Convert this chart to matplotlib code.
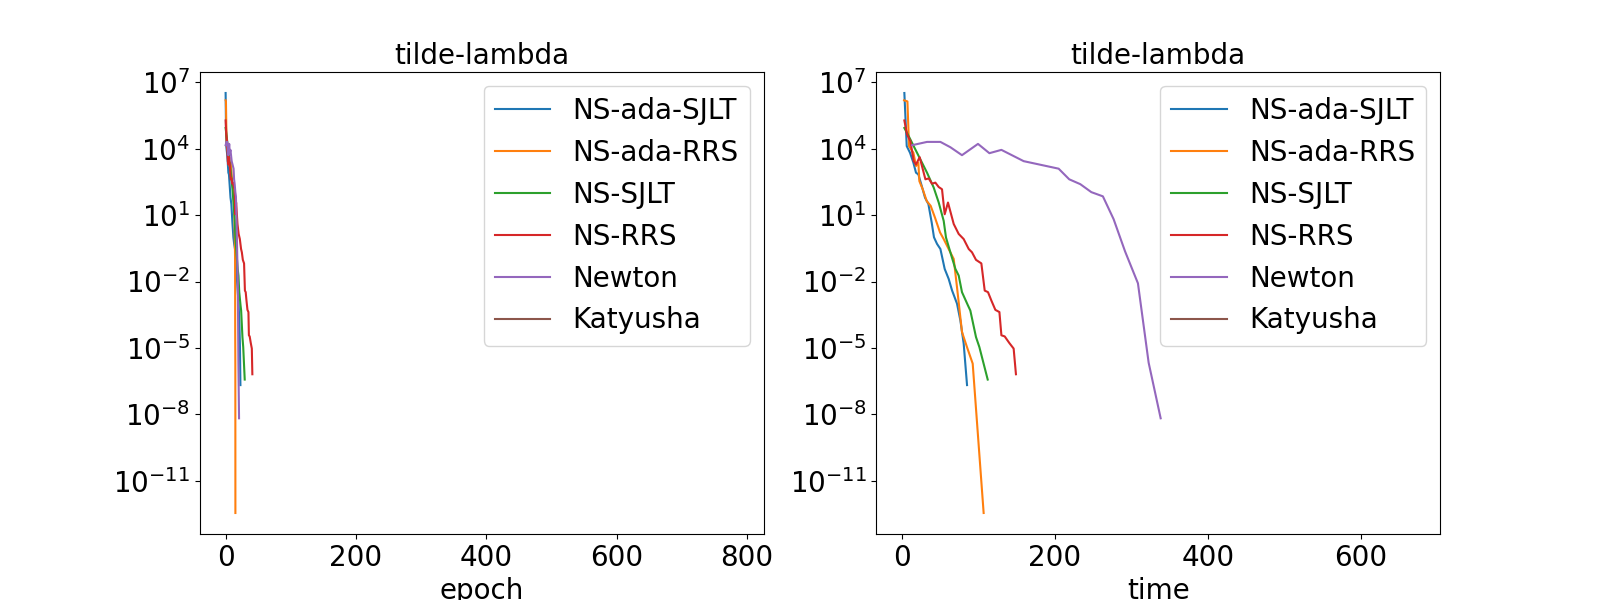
import matplotlib
matplotlib.use('Agg')
import matplotlib.pyplot as plt

plt.rcParams['font.size'] = 20

# 데이터 (그림에서 읽은 값, log10 값으로 적음)
ada_sjlt_time = [3.6, 6.7, 11, 15.4, 18.8, 21.9, 26.3, 30.6, 35, 39.3, 42.3, 46.3, 50.7, 56.3, 61.5, 65.9, 72.4, 76.8, 81.1, 85.5]
ada_sjlt_epoch = [0, 0.9, 2.1, 3.3, 4.2, 5.1, 6.3, 7.5, 8.8, 10.4, 11.9, 13.1, 14.4, 15.9, 17.3, 18.5, 19.9, 21.0, 21.9, 22.7]
ada_sjlt_log = [6.52, 4.12, 3.82, 3.37, 2.92, 2.84, 2.32, 1.79, 1.50, 0.67, 0.0, -0.3, -0.53, -1.43, -1.88, -2.4, -3.0, -3.76, -4.8, -6.68]

ada_rrs_time = [3.2, 7.6, 9.7, 15.4, 18.8, 21.9, 23.2, 27.6, 32.8, 38, 43.6, 50.2, 55, 61.5, 68.1, 72.4, 78.9, 85.4, 92.9, 107.2]
ada_rrs_epoch = [0, 0.5, 1.5, 4, 6, 8, 10, 11.5, 12.5, 13.2, 13.6, 13.9, 14.1, 14.3, 14.5, 14.6, 14.7, 14.8, 14.9, 15.0]
ada_rrs_log = [6.19, 6.14, 4.12, 3.82, 3.22, 3.37, 2.54, 2.17, 1.64, 1.42, 0.89, 0.22, -0.08, -0.53, -0.98, -2.26, -4.28, -4.96, -5.71, -12.46]

sjlt_time = [3.6, 9.3, 15.8, 24.5, 33.2, 41.9, 48.5, 55, 58, 65, 70.3, 74.6, 78.9, 86.7, 89.8, 97.2, 101.6, 112.5]
sjlt_epoch = [0, 1.5, 3.3, 5.6, 8, 10.3, 12.1, 14, 15, 17, 18.5, 19.7, 20.9, 22.9, 23.8, 25.8, 27, 29.3]
sjlt_log = [4.94, 4.57, 4.12, 3.52, 2.92, 2.25, 1.57, 0.74, -0.01, -0.83, -1.43, -1.73, -2.48, -3.08, -3.31, -4.51, -4.96, -6.43]

rrs_time = [3.6, 7.1, 11.5, 15.8, 18.8, 23.6, 31.1, 35.4, 39.7, 44.1, 48.5, 52.8, 56.3, 60.6, 68.1, 74.6, 81.1,
            87.7, 92, 97.2, 104.2, 108.6, 112.9, 117.3, 122.5, 127.8, 130.4, 134.7, 140.8, 146.4, 149.4]
rrs_epoch = [0, 1.0, 2.2, 3.4, 4.3, 5.6, 7.7, 9.0, 10.2, 11.4, 12.6, 13.9, 14.8, 16.1, 18.2, 20.0, 21.8,
             23.7, 24.9, 26.4, 28.3, 29.6, 30.8, 32.0, 33.5, 35.0, 35.7, 36.9, 38.6, 40.2, 41.0]
rrs_log = [5.28, 4.65, 4.34, 3.44, 3.29, 3.62, 2.62, 2.66, 2.42, 2.47, 2.27, 2.17, 1.04, 1.57, 0.60, 0.15, -0.08,
           -0.53, -0.68, -1.02, -1.18, -2.41, -2.48, -2.86, -3.28, -3.38, -4.43, -4.48, -4.78, -5.03, -6.19]

newton_time = [13.6, 33.2, 50.7, 63.7, 78.9, 99.8, 114.7, 130.4, 159.5, 205.2, 219, 233.5, 247.9, 263, 277, 292, 308.8, 322.8, 338.5]
newton_epoch = [0, 1.2, 2.4, 3.2, 4.1, 5.5, 6.4, 7.4, 9.3, 12.2, 13.0, 13.9, 14.9, 15.8, 16.7, 17.7, 18.7, 19.6, 20.6]
newton_log = [4.16, 4.31, 4.31, 4.07, 3.71, 4.22, 3.80, 3.95, 3.44, 3.10, 2.62, 2.40, 2.04, 1.85, 0.82, -0.64, -2.08, -5.67, -8.18]

# Katyusha: 값이 0 이라서 log 축에서는 안 보임
katyusha_time = [0.5, 670]
katyusha_epoch = [0, 786]
katyusha_val = [0, 0]

names = ['NS-ada-SJLT', 'NS-ada-RRS', 'NS-SJLT', 'NS-RRS', 'Newton']
epochs = [ada_sjlt_epoch, ada_rrs_epoch, sjlt_epoch, rrs_epoch, newton_epoch]
times = [ada_sjlt_time, ada_rrs_time, sjlt_time, rrs_time, newton_time]
logs = [ada_sjlt_log, ada_rrs_log, sjlt_log, rrs_log, newton_log]

fig, (ax1, ax2) = plt.subplots(1, 2, figsize=(16, 6), dpi=100)

for ax, xs, kx, xlabel in [(ax1, epochs, katyusha_epoch, 'epoch'), (ax2, times, katyusha_time, 'time')]:
    for name, x, lg in zip(names, xs, logs):
        ax.plot(x, [10 ** v for v in lg], label=name)
    ax.plot(kx, katyusha_val, label='Katyusha')
    ax.set_yscale('log')
    ax.set_title('tilde-lambda', fontsize=20)
    ax.set_xlabel(xlabel)
    ax.legend(loc='upper right')

fig.savefig('out.png')
